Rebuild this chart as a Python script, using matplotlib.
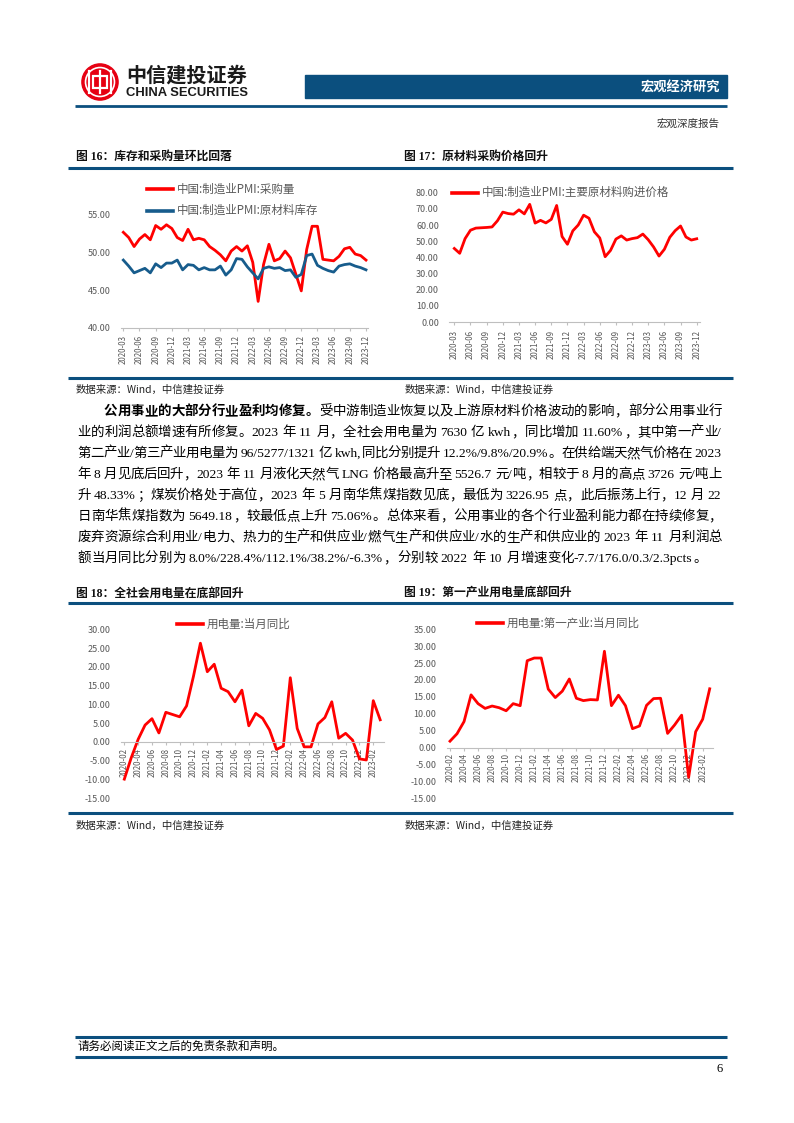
import matplotlib
matplotlib.use('Agg')
import matplotlib.pyplot as plt
from matplotlib.lines import Line2D
from matplotlib.patches import Rectangle, Circle

W, H = 794, 1123
plt.rcParams['font.family'] = ['Noto Sans CJK SC', 'DejaVu Sans']
plt.rcParams['axes.unicode_minus'] = False

# ---- data ----
months_all = [f'{y}-{m:02d}' for y in range(2020, 2024) for m in range(1, 13)]
pmi_months = months_all[2:]       # 2020-03 .. 2023-12
elec_months = months_all[1:39]    # 2020-02 .. 2023-03

pmi_purchase = [52.7, 52.0, 50.8, 51.8, 52.4, 51.7, 53.6, 53.1, 53.7, 53.2,
                52.0, 51.6, 53.1, 51.7, 51.9, 51.7, 50.8, 50.3, 49.7, 48.9, 50.2, 50.8,
                50.2, 50.9, 48.7, 43.5, 48.4, 51.1, 48.9, 49.2, 50.2, 49.3, 47.1, 44.9,
                50.4, 53.5, 53.5, 49.1, 49.0, 48.9, 49.5, 50.5, 50.7, 49.8, 49.6, 49.0]
pmi_stock = [49.0, 48.2, 47.3, 47.6, 47.9, 47.3, 48.5, 48.0, 48.6, 48.6,
             49.0, 47.7, 48.4, 48.3, 47.7, 48.0, 47.7, 47.7, 48.2, 47.0, 47.7, 49.2,
             49.1, 48.1, 47.3, 46.5, 47.9, 48.1, 47.9, 48.0, 47.6, 47.7, 46.7, 47.1,
             49.6, 49.8, 48.3, 47.9, 47.6, 47.4, 48.2, 48.4, 48.5, 48.2, 48.0, 47.7]
pmi_price = [45.5, 42.5, 51.6, 56.8, 58.1, 58.3, 58.5, 58.8, 62.6, 68.0,
             67.1, 66.7, 69.4, 66.9, 72.8, 61.2, 62.9, 61.3, 63.5, 72.1, 52.9, 48.1,
             56.4, 60.0, 66.1, 64.2, 55.8, 52.0, 40.4, 44.3, 51.3, 53.3, 50.7, 51.6,
             52.2, 54.4, 50.9, 46.4, 40.8, 45.0, 52.4, 56.5, 59.4, 52.6, 50.7, 51.5]
elec_total = [-9.9, -4.2, 0.7, 4.5, 6.2, 2.4, 7.9, 7.3, 6.7, 9.6, 17.5,
              26.3, 18.7, 20.7, 14.3, 13.4, 10.7, 13.8, 4.3, 7.6, 6.3, 3.2, -2.0,
              -1.1, 17.1, 3.6, -1.3, -1.3, 4.8, 6.5, 10.7, 1.0, 2.3, 0.5, -4.5,
              -4.8, 11.0, 5.9]
elec_primary = [1.9, 4.1, 7.7, 15.6, 13.0, 11.6, 12.3, 11.8, 10.9, 13.0, 12.4,
                25.7, 26.5, 26.5, 17.3, 14.8, 16.7, 20.3, 14.6, 13.9, 14.2, 14.1, 28.5,
                12.4, 15.5, 12.4, 5.6, 6.4, 12.5, 14.5, 14.6, 4.2, 6.7, 9.6, -8.8,
                4.7, 8.4, 17.4]

para = [
    '公用事业的大部分行业盈利均修复。受中游制造业恢复以及上游原材料价格波动的影响，部分公用事业行',
    '业的利润总额增速有所修复。2023 年 11 月，全社会用电量为 7630 亿 kwh，同比增加 11.60%，其中第一产业/',
    '第二产业/第三产业用电量为 96/5277/1321 亿 kwh,同比分别提升 12.2%/9.8%/20.9%。在供给端天然气价格在 2023',
    '年 8 月见底后回升，2023 年 11 月液化天然气 LNG 价格最高升至 5526.7 元/吨，相较于 8 月的高点 3726 元/吨上',
    '升 48.33%；煤炭价格处于高位，2023 年 5 月南华焦煤指数见底，最低为 3226.95 点，此后振荡上行，12 月 22',
    '日南华焦煤指数为 5649.18，较最低点上升 75.06%。总体来看，公用事业的各个行业盈利能力都在持续修复，',
    '废弃资源综合利用业/电力、热力的生产和供应业/燃气生产和供应业/水的生产和供应业的 2023 年 11 月利润总',
    '额当月同比分别为 8.0%/228.4%/112.1%/38.2%/-6.3%，分别较 2022 年 10 月增速变化-7.7/176.0/0.3/2.3pcts。',
]
BOLD_LEAD = 16  # chars of the bold lead-in

RED = '#FF0000'
BLUE = '#175C8C'
NAVY = '#0B4F7E'
GRAY = '#595959'
SERIF = ['Liberation Serif', 'Noto Sans CJK SC']

fig = plt.figure(figsize=(W / 100, H / 100), dpi=100)
fig.patch.set_facecolor('white')
renderer = fig.canvas.get_renderer()


def fx(x):
    return x / W


def fy(y):
    return 1 - y / H


def hline(y, x0, x1, lw, color=NAVY):
    fig.add_artist(Line2D([fx(x0), fx(x1)], [fy(y), fy(y)], lw=lw, color=color,
                          solid_capstyle='butt'))


def put(x, y, s, **kw):
    kw.setdefault('va', 'center')
    return fig.text(fx(x), fy(y), s, **kw)


def add_axes(l, t, r, b):
    return fig.add_axes([fx(l), fy(b), (r - l) / W, (b - t) / H])


# ---- header ----
lg = add_axes(81, 62, 119, 102)
lg.set_xlim(-1.05, 1.05); lg.set_ylim(-1.05, 1.05); lg.set_aspect('equal'); lg.axis('off')
lg.add_patch(Circle((0, 0), 1, color='#E60012'))
lg.add_patch(Circle((0, 0), 0.80, fill=False, ec='white', lw=1.2))
lg.add_patch(Rectangle((-0.38, -0.32), 0.76, 0.64, fill=False, ec='white', lw=1.6))
for xv in (-0.6, 0, 0.6):
    lg.plot([xv, xv], [-0.62, 0.62], color='white', lw=1.6)

put(126, 75, '中信建投证券', fontsize=14.5, weight='bold', color='#1A1A1A')
put(126, 93, 'CHINA SECURITIES', fontsize=9.4, weight='bold', color='#1A1A1A',
    family='Liberation Sans')
fig.add_artist(Rectangle((fx(304.7), fy(97.7)), (726.7 - 304.7) / W, (97.7 - 75) / H,
                         color=NAVY, transform=fig.transFigure))
put(720, 86.5, '宏观经济研究', fontsize=9.5, weight='bold', color='white', ha='right')
hline(105.7, 75.4, 726.7, 2.0)
put(720, 123.3, '宏观深度报告', fontsize=7.6, color='#333333', ha='right')


# ---- charts ----
def line_chart(box, series, labels, step, xlim, ylim, yticks, zero_axis=False, xpad=3):
    ax = add_axes(*box)
    for s in ['top', 'right', 'left']:
        ax.spines[s].set_visible(False)
    if zero_axis:
        ax.spines['bottom'].set_position(('data', 0))
    ax.spines['bottom'].set_color('#BFBFBF')
    ax.spines['bottom'].set_linewidth(0.8)
    xs = list(range(len(labels)))
    for vals, color in series:
        ax.plot(xs, vals, color=color, lw=2.0, solid_joinstyle='round', clip_on=False)
    ax.set_xlim(*xlim)
    ax.set_ylim(*ylim)
    ax.set_yticks(yticks)
    ax.set_yticklabels([f'{v:.2f}' for v in yticks], fontsize=6.5, color=GRAY)
    ax.set_xticks(xs[::step])
    ax.set_xticklabels(labels[::step], rotation=90, fontsize=5.7, color=GRAY)
    ax.tick_params(axis='y', length=0, pad=7.5)
    ax.tick_params(axis='x', length=2.5, width=0.8, color='#BFBFBF', pad=xpad)
    ax.patch.set_alpha(0)
    return ax


def legend_item(x0, x1, y, color, text):
    fig.add_artist(Line2D([fx(x0), fx(x1)], [fy(y), fy(y)], lw=2.6, color=color))
    put(x1 + 3.5, y, text, fontsize=8.3, color=GRAY)


def chart_frame(x, y_title, y_src, title):
    put(x, y_title, title, fontsize=8.5, weight='bold', family=SERIF, color='#111111')
    put(x, y_src, '数据来源：Wind，中信建投证券', fontsize=7.5, color='#222222')


hline(167.7, 68, 733, 2.2)
hline(377.5, 68, 733, 2.2)
hline(603.3, 68, 733, 2.2)
hline(813.3, 68, 733, 2.2)

chart_frame(76, 156.7, 389.3, '图 16：库存和采购量环比回落')
chart_frame(404.3, 156.7, 389.3, '图 17：原材料采购价格回升')
chart_frame(76, 594, 825.5, '图 18：全社会用电量在底部回升')
chart_frame(404.3, 594, 825.5, '图 19：第一产业用电量底部回升')

line_chart((121, 215, 368, 327.7), [(pmi_purchase, RED), (pmi_stock, BLUE)],
           pmi_months, 3, (-0.43, 45.37), (40, 55), [40, 45, 50, 55])
legend_item(147, 173, 189.3, RED, '中国:制造业PMI:采购量')
legend_item(147, 173, 210.7, BLUE, '中国:制造业PMI:原材料库存')

line_chart((449.3, 192.7, 700, 322), [(pmi_price, RED)],
           pmi_months, 3, (-0.93, 45.61), (0, 80), list(range(0, 81, 10)))
legend_item(452, 478, 192.7, RED, '中国:制造业PMI:主要原材料购进价格')

line_chart((121, 629.3, 384, 798.3), [(elec_total, RED)],
           elec_months, 2, (-0.48, 37.55), (-15, 30), list(range(-15, 31, 5)),
           zero_axis=True, xpad=2)
legend_item(177, 203, 624.3, RED, '用电量:当月同比')

line_chart((446.7, 629.3, 713, 798.3), [(elec_primary, RED)],
           elec_months, 2, (-0.47, 37.47), (-15, 35), list(range(-15, 36, 5)),
           zero_axis=True, xpad=1.5)
legend_item(476.7, 503.3, 623.3, RED, '用电量:第一产业:当月同比')


# ---- body paragraph (justified by hand) ----
FS = 9.7
EM = FS * 100 / 72


def tokens_of(line, bold_n):
    toks, run, start = [], '', 0
    for i, ch in enumerate(line):
        if ch == ' ':
            if run:
                toks.append((run, start < bold_n)); run = ''
            toks.append((' ', False))
        elif ord(ch) < 128:
            if not run:
                start = i
            run += ch
        else:
            if run:
                toks.append((run, start < bold_n)); run = ''
            toks.append((ch, i < bold_n))
    if run:
        toks.append((run, start < bold_n))
    return toks


def tok_width(tok, bold):
    if tok == ' ':
        return 0.25 * EM
    if ord(tok[0]) >= 128:
        return EM
    t = fig.text(0, 0, tok, fontsize=FS, family=SERIF, weight='bold' if bold else 'normal')
    w = t.get_window_extent(renderer).width + 0.06 * EM
    t.remove()
    return w


y0, dy = 415.0, 21.0
for li, line in enumerate(para):
    x_start = 103.9 if li == 0 else 77.5
    x_end = 722.0
    toks = tokens_of(line, BOLD_LEAD if li == 0 else 0)
    widths = [tok_width(t, b) for t, b in toks]
    total = sum(widths)
    gap = 0.0
    if li < len(para) - 1 and len(toks) > 1:
        gap = (x_end - x_start - total) / (len(toks) - 1)
    x = x_start
    yb = y0 + li * dy
    for (t, b), w in zip(toks, widths):
        if t != ' ':
            put(x, yb, t, fontsize=FS, family=SERIF, weight='bold' if b else 'normal',
                va='baseline', color='black')
        x += w + gap

# ---- footer ----
hline(1036.7, 75, 726.7, 2.2)
put(77.5, 1046, '请务必阅读正文之后的免责条款和声明。', fontsize=8.3, color='black')
hline(1057.3, 75, 726.7, 2.2)
put(723, 1069.3, '6', fontsize=9, family='Liberation Serif', ha='right', color='black')

fig.savefig('out.png', dpi=100, facecolor='white')
